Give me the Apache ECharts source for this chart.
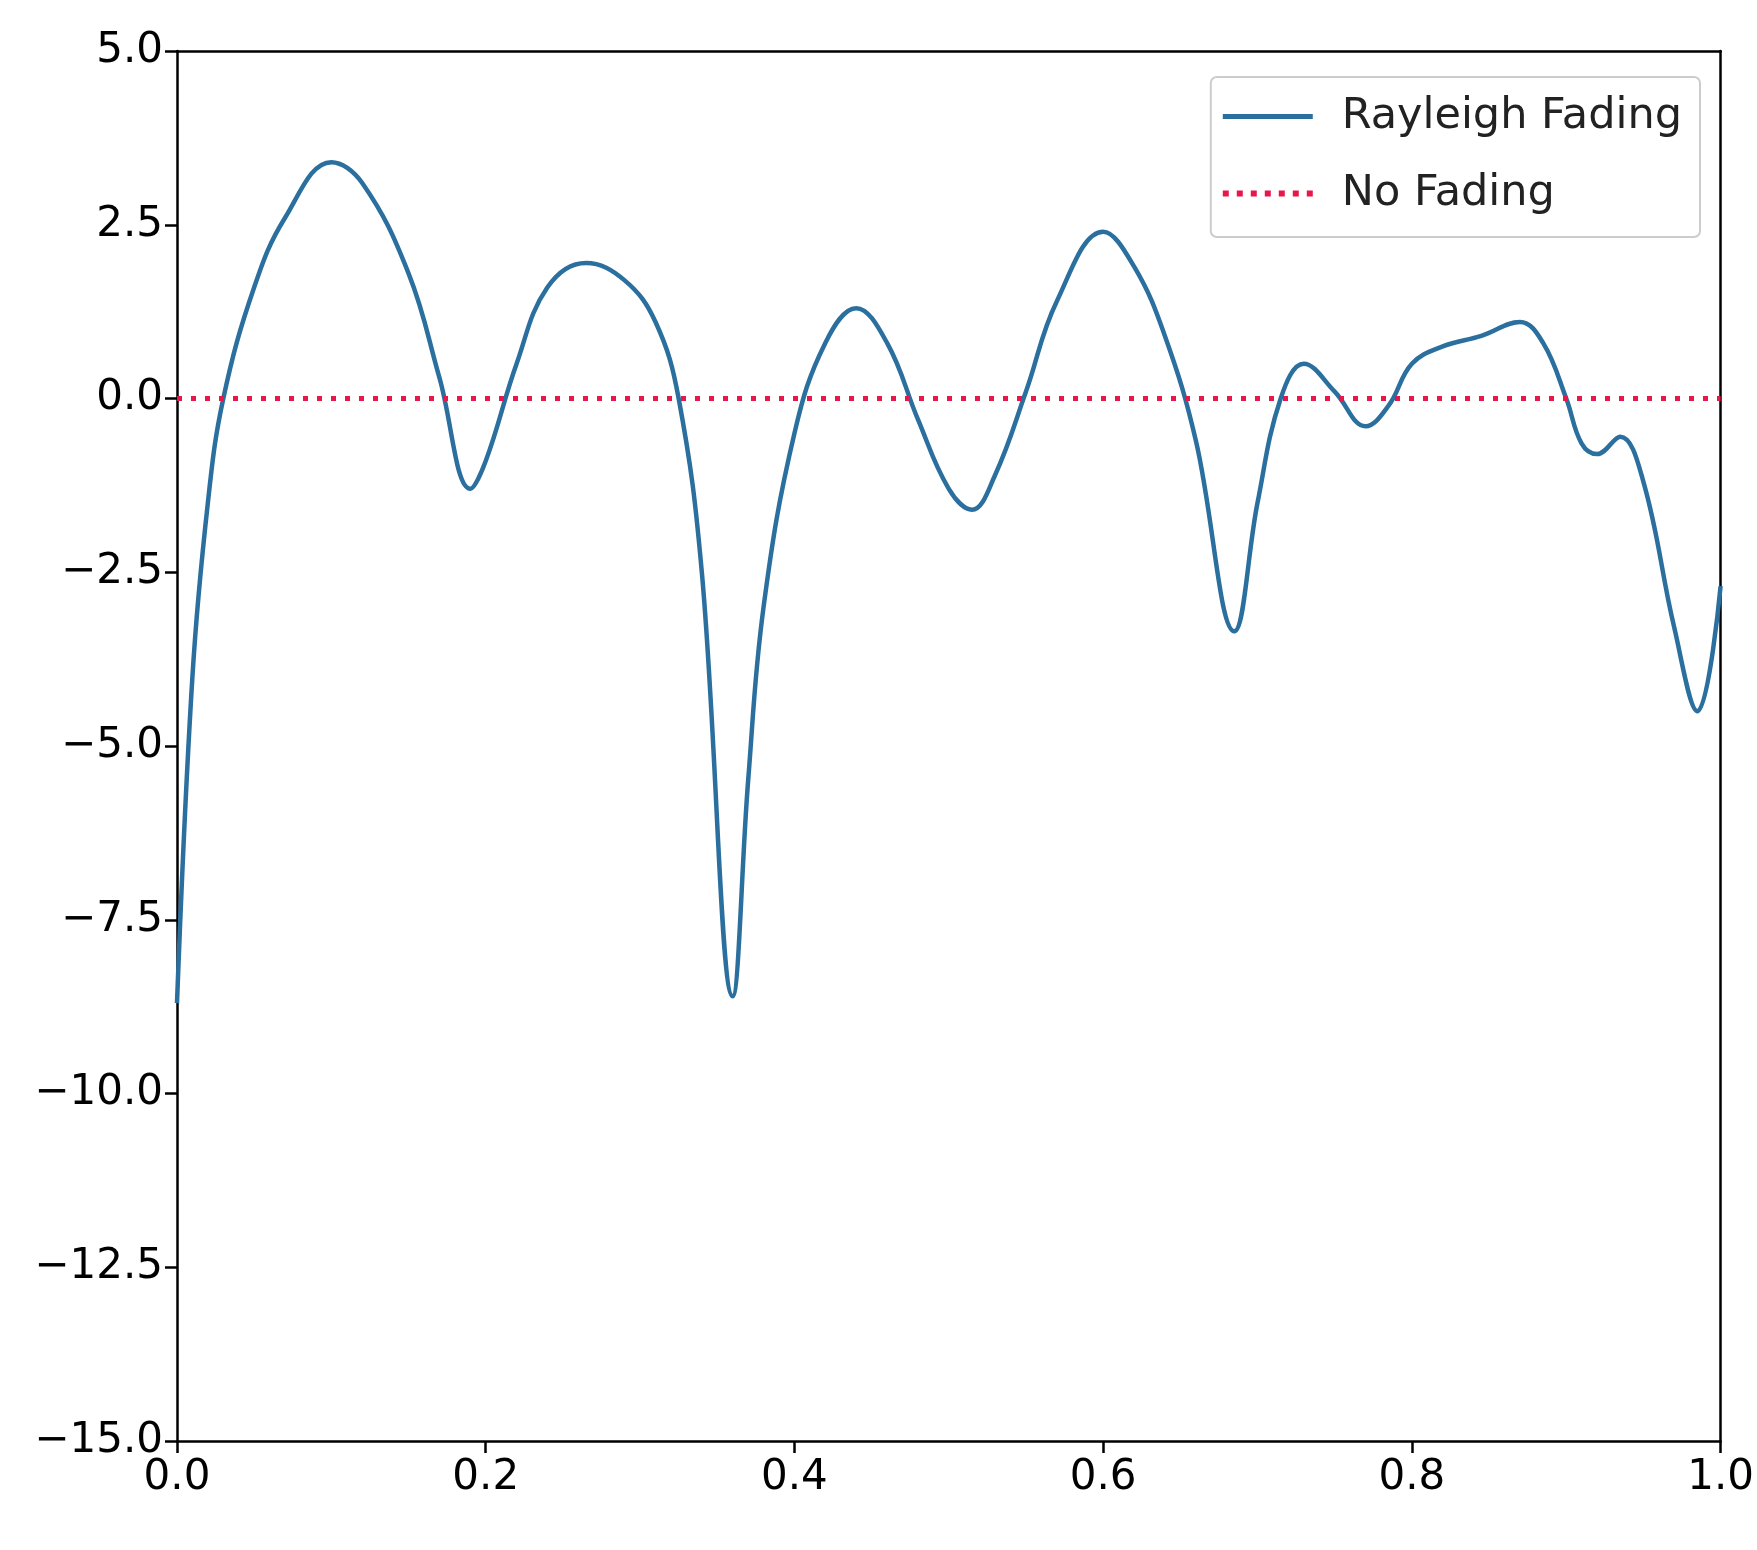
<!DOCTYPE html>
<html><head><meta charset="utf-8">
<script src="https://cdn.jsdelivr.net/npm/echarts@6/dist/echarts.min.js"></script>
<style>html,body{margin:0;background:#fff}#c{width:1757px;height:1550px}</style>
</head><body><div id="c"></div>
<script>
// curve samples: [x, gain dB]
var xs = [0.0,0.01,0.02,0.03,0.05,0.07,0.1,0.12,0.15,0.17,0.19,0.2,0.22,0.24,0.265,0.29,0.31,0.325,0.34,0.36,0.37,0.38,0.4,0.42,0.44,0.46,0.48,0.5,0.515,0.53,0.55,0.57,0.6,0.62,0.64,0.66,0.685,0.7,0.715,0.73,0.75,0.77,0.785,0.8,0.82,0.845,0.87,0.885,0.9,0.91,0.92,0.935,0.95,0.97,0.985,1.0];
var rayleigh = [-8.7,-4,-1.5,0,1.6,2.6,3.4,3.1,1.8,0.3,-1.3,-0.9,0.5,1.6,1.95,1.7,1.1,0,-2.5,-8.6,-5.5,-3,-0.5,0.8,1.3,0.8,-0.3,-1.3,-1.6,-1.1,0.1,1.4,2.4,1.9,0.9,-0.6,-3.35,-1.5,0,0.5,0.1,-0.4,-0.1,0.5,0.75,0.9,1.1,0.8,0,-0.65,-0.8,-0.55,-1.2,-3.3,-4.5,-2.7];
var noFading = [[0, 0], [1, 0]];

var chart = echarts.init(document.getElementById('c'));
var font = 'DejaVu Sans';
var frame = { show: true, onZero: false, lineStyle: { color: '#000', width: 2.5 } };
chart.setOption({
    animation: false,
    grid: { left: 177, right: 34, top: 51, bottom: 109 },
    legend: {
        right: 57, top: 77, orient: 'vertical', itemGap: 34,
        itemWidth: 90, itemHeight: 20,
        padding: [18, 18, 22, 12],
        borderColor: '#ccc', borderWidth: 2, borderRadius: 6,
        textStyle: { fontFamily: font, fontSize: 43, color: '#222', padding: [0, 0, 0, 24] },
        data: [
            { name: 'Rayleigh Fading', icon: 'path://M0,7.5 L90,7.5 L90,12.5 L0,12.5 Z' },
            { name: 'No Fading', icon: 'path://M0,7 h6 v6 h-6 Z M14,7 h6 v6 h-6 Z M28,7 h6 v6 h-6 Z M42,7 h6 v6 h-6 Z M56,7 h6 v6 h-6 Z M70,7 h6 v6 h-6 Z M84,7 h6 v6 h-6 Z' }
        ]
    },
    xAxis: [{
        type: 'value', min: 0, max: 1, interval: 0.2, position: 'bottom',
        axisLine: frame,
        axisTick: { show: true, length: 12, lineStyle: { color: '#000', width: 2.5 } },
        splitLine: { show: false },
        axisLabel: { fontFamily: font, fontSize: 42, color: '#000', margin: 16, formatter: function (v) { return v.toFixed(1); } }
    }, {
        type: 'value', min: 0, max: 1, position: 'top',
        axisLine: frame, axisTick: { show: false }, axisLabel: { show: false }, splitLine: { show: false }
    }],
    yAxis: [{
        type: 'value', min: -15, max: 5, interval: 2.5, position: 'left',
        axisLine: frame,
        axisTick: { show: true, length: 12, lineStyle: { color: '#000', width: 2.5 } },
        splitLine: { show: false },
        axisLabel: { fontFamily: font, fontSize: 42, color: '#000', margin: 14,
            formatter: function (v) { return v.toFixed(1).replace('-', '\u2212'); } }
    }, {
        type: 'value', min: -15, max: 5, position: 'right',
        axisLine: frame, axisTick: { show: false }, axisLabel: { show: false }, splitLine: { show: false }
    }],
    series: [
        {
            name: 'Rayleigh Fading', type: 'line', smooth: 0.4, showSymbol: false,
            data: xs.map(function (x, i) { return [x, rayleigh[i]]; }),
            itemStyle: { color: '#2b6f9f' },
            lineStyle: { color: '#2b6f9f', width: 4.5 }
        },
        {
            name: 'No Fading', type: 'line', showSymbol: false, data: noFading,
            itemStyle: { color: '#e8174a' },
            lineStyle: { color: '#e8174a', width: 5, type: [5, 9] }
        }
    ]
});
</script></body></html>
